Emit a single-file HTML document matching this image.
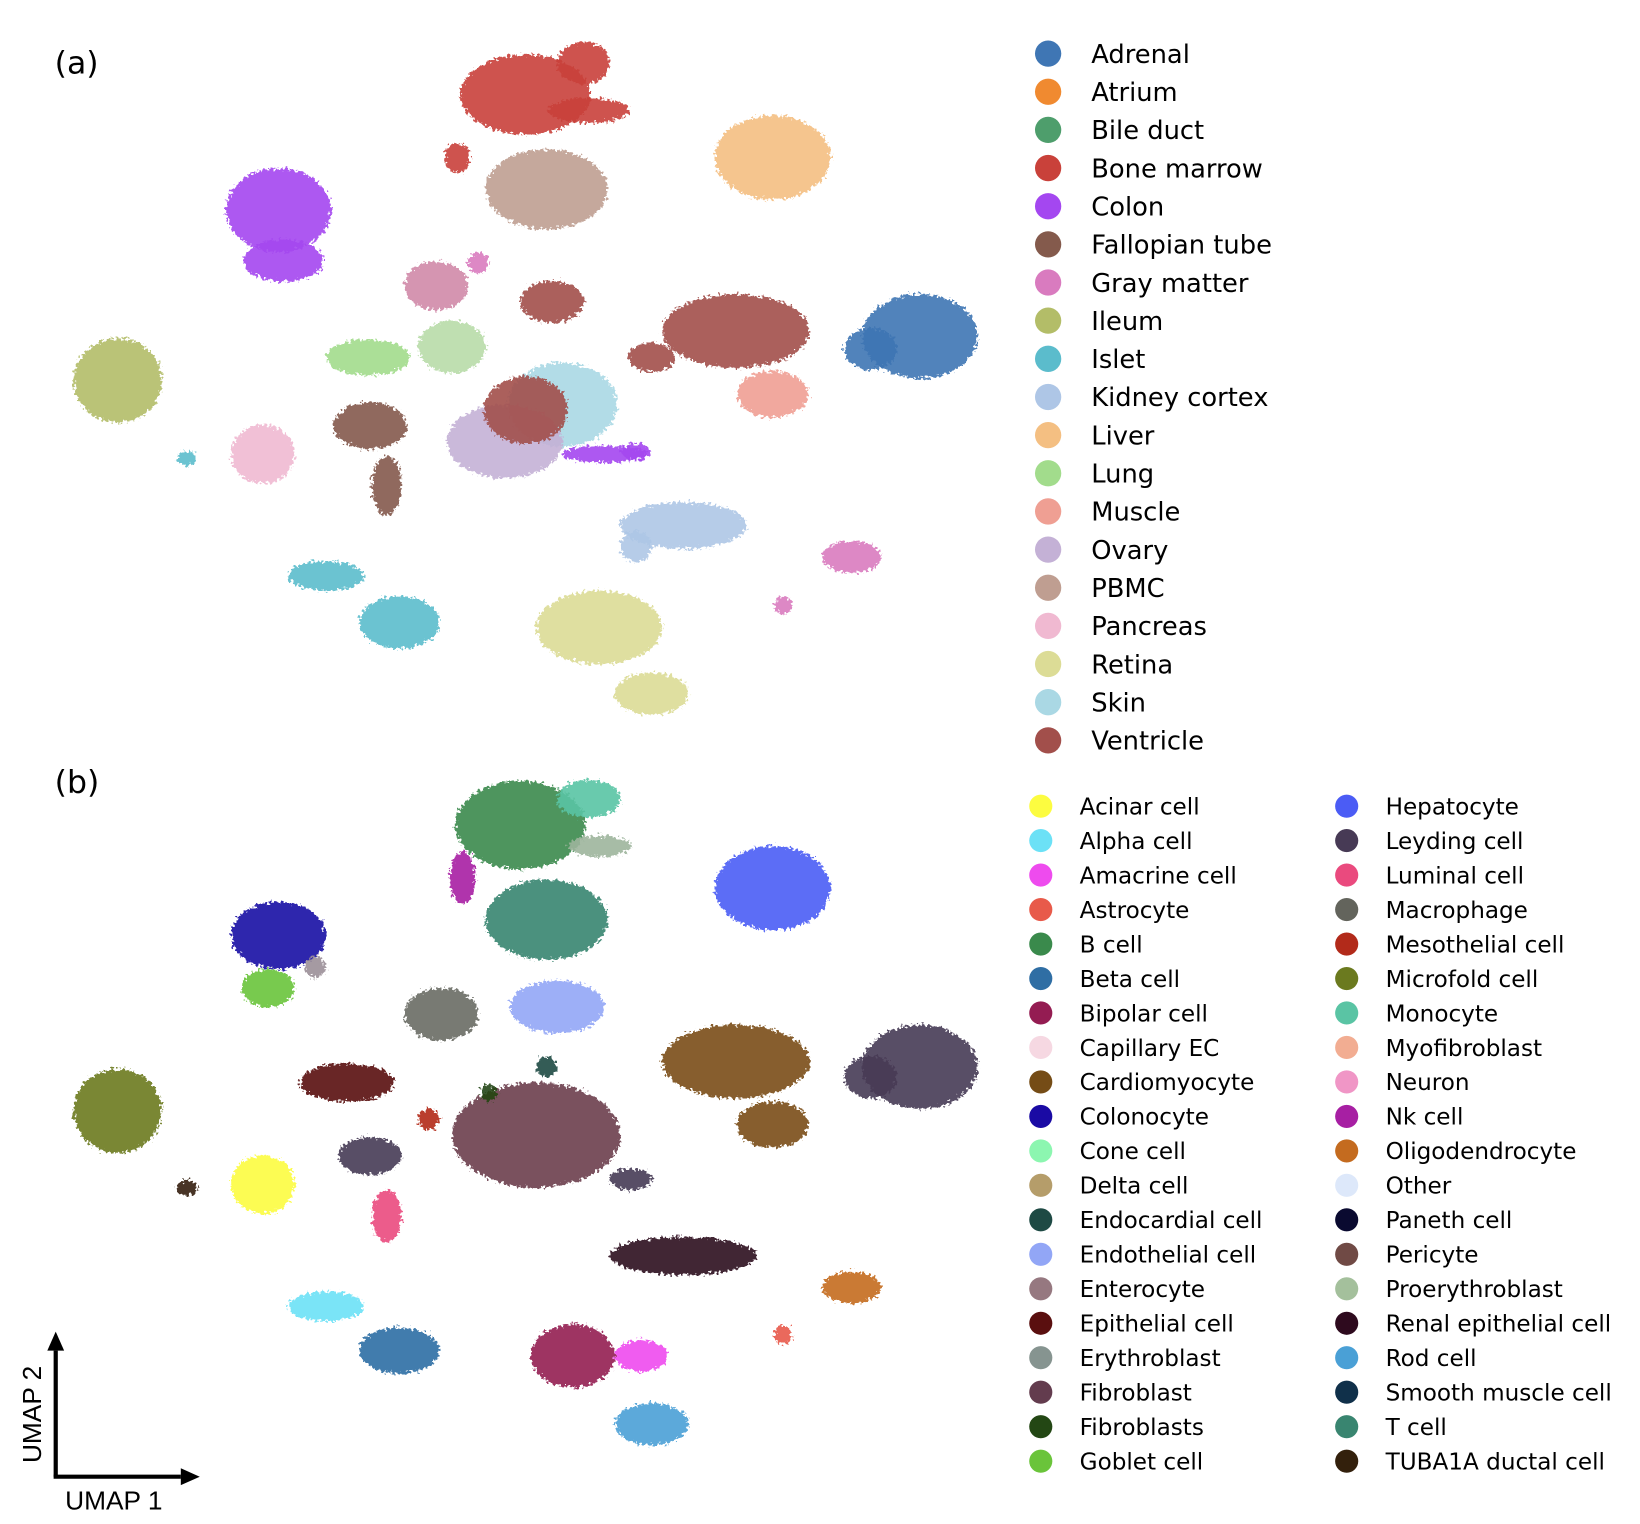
<!DOCTYPE html>
<html><head><meta charset="utf-8"><style>
html,body{margin:0;padding:0;background:#fff;}
svg{display:block;}
text{font-family:"DejaVu Sans","Liberation Sans",sans-serif;}
</style></head><body>
<svg id="fig" width="1640" height="1524" viewBox="0 0 1560 1450" preserveAspectRatio="none" xmlns="http://www.w3.org/2000/svg">
<defs>
<filter id="fuzz" x="-20%" y="-20%" width="140%" height="140%">
<feTurbulence type="fractalNoise" baseFrequency="0.35" numOctaves="2" seed="3" result="n"/>
<feDisplacementMap in="SourceGraphic" in2="n" scale="10" xChannelSelector="R" yChannelSelector="G"/>
</filter>
</defs>
<text x="52" y="70" font-size="30">(a)</text>
<text x="52" y="754" font-size="30">(b)</text>
<g id="panelA" filter="url(#fuzz)"></g>
<g id="panelB" filter="url(#fuzz)"></g>
<g id="legA"></g>
<g id="legB"></g>
<g>
<line x1="53" y1="1405" x2="53" y2="1285" stroke="#000" stroke-width="4"/>
<polygon points="45,1285 61,1285 53,1267" fill="#000"/>
<line x1="51" y1="1405" x2="172" y2="1405" stroke="#000" stroke-width="4"/>
<polygon points="172,1397 172,1413 190,1405" fill="#000"/>
<text x="0" y="0" font-size="25" transform="translate(39,1392) rotate(-90)" style="font-family:'Liberation Sans',sans-serif">UMAP 2</text>
<text x="62" y="1436" font-size="25" style="font-family:'Liberation Sans',sans-serif">UMAP 1</text>
</g>
</svg>
<script>
const NS="http://www.w3.org/2000/svg";
// Panel (a) clusters: tissue
const aX=[500,560,555,520,735,265,270,112,875,828,700,735,535,480,500,350,415,525,352,368,250,310,380,178,650,605,810,745,570,620,575,605,435,430,455,620];
const aY=[90,105,60,180,150,200,248,362,320,332,315,375,385,420,390,340,272,287,405,462,432,548,592,436,500,520,530,576,597,660,432,430,150,330,250,340];
const aRx=[62,38,25,58,55,50,38,42,55,25,70,34,52,55,40,40,30,30,35,14,30,36,38,9,60,15,28,8,60,35,40,14,12,32,10,22];
const aRy=[38,12,20,38,40,40,20,40,40,20,35,22,40,35,32,17,23,20,22,28,28,14,25,7,22,15,15,9,35,20,8,8,14,25,10,14];
const aC=["#c9413a","#c9413a","#c9413a","#bf9e91","#f4bf82","#a447f0","#a447f0","#b3bd68","#3f76b4","#3f76b4","#a24f4b","#ef9f93","#aad8e4","#c4b1d6","#a24f4b","#a2dc8c","#d08aa8","#a24f4b","#845a4c","#845a4c","#f0b9d1","#5bbccc","#5bbccc","#5bbccc","#aec6e6","#aec6e6","#d97bbf","#d97bbf","#dcdc96","#dcdc96","#a447f0","#a447f0","#c9413a","#b8dca8","#d97bbf","#a24f4b"];
// Panel (b) clusters: cell type (same layout shifted)
const bX=[495,560,570,520,735,265,255,112,875,828,700,735,510,420,530,330,250,352,368,650,310,380,545,610,620,810,745,178,465,408,600,520,440,300];
const bY=[785,760,805,875,845,890,940,1057,1015,1025,1010,1070,1080,965,958,1030,1127,1100,1157,1195,1243,1285,1290,1290,1355,1225,1270,1130,1040,1065,1122,1015,835,920];
const bRx=[62,30,30,58,55,45,25,42,55,25,70,34,80,35,45,45,30,30,14,70,36,38,40,25,35,28,8,10,8,10,20,10,12,10];
const bRy=[42,18,10,38,40,32,18,40,40,20,35,22,50,25,25,18,28,18,25,18,14,22,30,15,20,15,9,7,8,10,10,10,25,10];
const bC=["#3a8a4c","#5ac4a4","#9db59c","#398570","#4b5cf5","#1a0aa4","#6ac43a","#6b7a1f","#473a55","#473a55","#7a4e14","#7a4e14","#6b3f4e","#6a6b64","#92a6f6","#5a0f0f","#fcfc40","#473a55","#ea4a7e","#2e0a1e","#6ce1f6","#2f6ea4","#941c52","#ee4bee","#4aa0d6","#c46b1f","#e85a4a","#33200c","#234714","#b22a1a","#473a55","#1e4a44","#a71fa3","#9b8f98"];
const tissueNames=["Adrenal","Atrium","Bile duct","Bone marrow","Colon","Fallopian tube","Gray matter","Ileum","Islet","Kidney cortex","Liver","Lung","Muscle","Ovary","PBMC","Pancreas","Retina","Skin","Ventricle"];
const tissueColors=["#3f76b4","#f08a30","#4e9e6c","#c9413a","#a447f0","#845a4c","#d97bbf","#b3bd68","#5bbccc","#aec6e6","#f4bf82","#a2dc8c","#ef9f93","#c4b1d6","#bf9e91","#f0b9d1","#dcdc96","#aad8e4","#a24f4b"];
const cellNames=["Acinar cell","Alpha cell","Amacrine cell","Astrocyte","B cell","Beta cell","Bipolar cell","Capillary EC","Cardiomyocyte","Colonocyte","Cone cell","Delta cell","Endocardial cell","Endothelial cell","Enterocyte","Epithelial cell","Erythroblast","Fibroblast","Fibroblasts","Goblet cell","Hepatocyte","Leyding cell","Luminal cell","Macrophage","Mesothelial cell","Microfold cell","Monocyte","Myofibroblast","Neuron","Nk cell","Oligodendrocyte","Other","Paneth cell","Pericyte","Proerythroblast","Renal epithelial cell","Rod cell","Smooth muscle cell","T cell","TUBA1A ductal cell"];
const cellColors=["#fcfc40","#6ce1f6","#ee4bee","#e85a4a","#3a8a4c","#2f6ea4","#941c52","#f6d8e2","#754c16","#1a0aa4","#8cf6b0","#b59d6a","#1e4a44","#92a6f6","#967880","#5a0f0f","#869490","#633c4e","#234714","#6ac43a","#4b5cf5","#473a55","#ea4a7e","#63645c","#b22a1a","#6b7a1f","#5ac4a4","#f2ad92","#f096c6","#a71fa3","#c46b1f","#dde8fa","#0a0a30","#704a45","#a4c09c","#2e0a1e","#4aa0d6","#10304a","#398570","#33200c"];

function drawClusters(gid,X,Y,RX,RY,C,tag){
  const g=document.getElementById(gid);
  for(let i=0;i<X.length;i++){
    const e=document.createElementNS(NS,"ellipse");
    
    
    e.setAttribute("cx",X[i]);e.setAttribute("cy",Y[i]);
    e.setAttribute("rx",RX[i]);e.setAttribute("ry",RY[i]);
    e.setAttribute("fill",C[i]);e.setAttribute("fill-opacity","0.9");
    g.appendChild(e);
  }
}
drawClusters("panelA",aX,aY,aRx,aRy,aC,"tissue");
drawClusters("panelB",bX,bY,bRx,bRy,bC,"celltype");

function legend(gid,names,colors,x0,y0,dy,r,tx,fs,perCol,colDx){
  const g=document.getElementById(gid);
  names.forEach((n,i)=>{
    const col=Math.floor(i/perCol), row=i%perCol;
    const c=document.createElementNS(NS,"circle");
    
    
    c.setAttribute("cx",x0+col*colDx);c.setAttribute("cy",y0+row*dy);c.setAttribute("r",r);c.setAttribute("fill",colors[i]);
    g.appendChild(c);
    const t=document.createElementNS(NS,"text");
    
    
    t.setAttribute("x",x0+col*colDx+tx);t.setAttribute("y",y0+row*dy+fs*0.36);t.setAttribute("font-size",fs);
    t.textContent=n;g.appendChild(t);
  });
}
legend("legA",tissueNames,tissueColors,997,51,36.3,12.5,41,24.5,19,0);
legend("legB",cellNames,cellColors,990,767,32.8,11,37,22,20,291);
</script>
</body></html>
